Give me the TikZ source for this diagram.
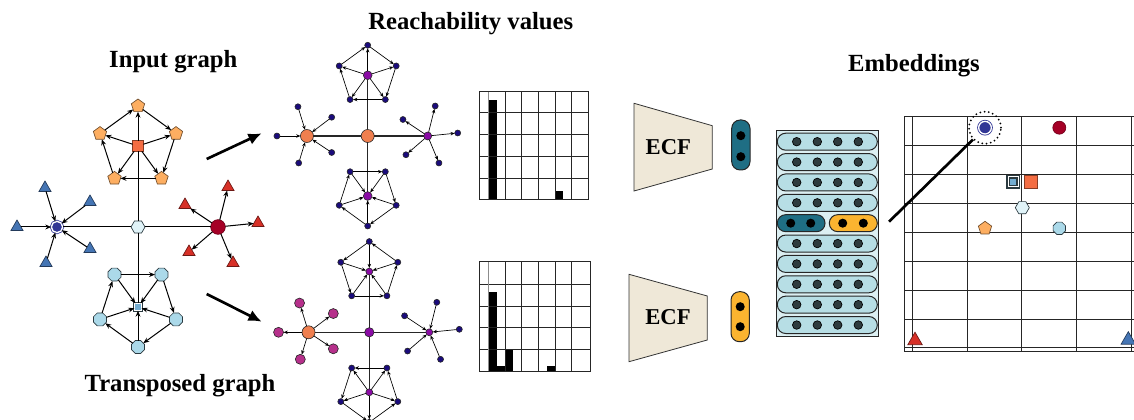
\documentclass[tikz,border=0pt]{standalone}
\usepackage{fontspec}
\setmainfont{Liberation Serif}
\usetikzlibrary{shapes.geometric,arrows.meta}

\definecolor{nodeline}{HTML}{2B3A40}
\definecolor{pentfill}{HTML}{FDAE61}
\definecolor{sqorange}{HTML}{F46D43}
\definecolor{hexfill}{HTML}{E0F3F8}
\definecolor{octfill}{HTML}{ABD9E9}
\definecolor{sqblue}{HTML}{74ADD1}
\definecolor{triblue}{HTML}{4575B4}
\definecolor{trired}{HTML}{D73027}
\definecolor{darkred}{HTML}{A50026}
\definecolor{navyring}{HTML}{313695}
\definecolor{plnavy}{HTML}{1A0B7C}
\definecolor{plpurple}{HTML}{8A0BA5}
\definecolor{plmagenta}{HTML}{B6308B}
\definecolor{plorange}{HTML}{EF7F4F}
\definecolor{ecffill}{HTML}{EFE8D8}
\definecolor{pillteal}{HTML}{1F6E84}
\definecolor{pillorange}{HTML}{FBB430}
\definecolor{pillblue}{HTML}{B7DEE5}
\definecolor{stackbg}{HTML}{DCEFF2}
\definecolor{dotgray}{HTML}{2E3B3E}

% node layout shared by the three graphs (pixel units around the centre node)
\newcommand\graphnodes[1]{%
  \node[#1-c] (#1-c) at (0,0) {};
  \node[#1-L] (#1-L) at (-81,0) {};
  \node[#1-R] (#1-R) at (80,0) {};
  \node[#1-T] (#1-T) at (0,-81) {};
  \node[#1-B] (#1-B) at (0,80) {};
  \node[#1-t] (#1-t1) at (0,-121) {};
  \node[#1-t] (#1-t2) at (38,-93.4) {};
  \node[#1-t] (#1-t3) at (23.5,-48.6) {};
  \node[#1-t] (#1-t4) at (-23.5,-48.6) {};
  \node[#1-t] (#1-t5) at (-38,-93.4) {};
  \node[#1-b] (#1-b1) at (0,120) {};
  \node[#1-b] (#1-b2) at (-38,92.4) {};
  \node[#1-b] (#1-b3) at (-23.5,47.6) {};
  \node[#1-b] (#1-b4) at (23.5,47.6) {};
  \node[#1-b] (#1-b5) at (38,92.4) {};
  \node[#1-l] (#1-l1) at (-93,-39) {};
  \node[#1-l] (#1-l2) at (-48,-25) {};
  \node[#1-l] (#1-l3) at (-121,0) {};
  \node[#1-l] (#1-l4) at (-48,22) {};
  \node[#1-l] (#1-l5) at (-92,36) {};
  \node[#1-r] (#1-r1) at (90,-40) {};
  \node[#1-r] (#1-r2) at (47,-22) {};
  \node[#1-r] (#1-r3) at (120,-4) {};
  \node[#1-r] (#1-r4) at (51,25) {};
  \node[#1-r] (#1-r5) at (95,36) {};
}
% #1 prefix, #2 directed edge style, #3 style of the four central links
\newcommand\graphedges[3]{%
  \draw[#3] (#1-c) -- (#1-L) (#1-c) -- (#1-R) (#1-c) -- (#1-T) (#1-c) -- (#1-B);
  \foreach \i in {1,...,5} {\draw[#2] (#1-T) -- (#1-t\i);}
  \draw[#2] (#1-t1) -- (#1-t2);
  \draw[#2] (#1-t2) -- (#1-t3);
  \draw[#2] (#1-t3) -- (#1-t4);
  \draw[#2] (#1-t4) -- (#1-t5);
  \draw[#2] (#1-t5) -- (#1-t1);
  \foreach \i in {1,...,5} {\draw[#2] (#1-b\i) -- (#1-B);}
  \draw[#2] (#1-b1) -- (#1-b2);
  \draw[#2] (#1-b2) -- (#1-b3);
  \draw[#2] (#1-b3) -- (#1-b4);
  \draw[#2] (#1-b4) -- (#1-b5);
  \draw[#2] (#1-b5) -- (#1-b1);
  \foreach \i in {1,...,5} {\draw[#2] (#1-l\i) -- (#1-L);}
  \foreach \i in {1,...,5} {\draw[#2] (#1-R) -- (#1-r\i);}
}

\begin{document}
\begin{tikzpicture}[x=0.75pt,y=-0.75pt,
  base/.style={inner sep=0pt, outer sep=0pt, line width=0.5pt},
  pent/.style={base, regular polygon, regular polygon sides=5, minimum size=10.5pt, fill=pentfill, draw=pentfill!45!black},
  oct/.style={base, regular polygon, regular polygon sides=8, minimum size=10.5pt, fill=octfill, draw=nodeline},
  hexa/.style={base, regular polygon, regular polygon sides=6, minimum size=10.5pt, fill=hexfill, draw=nodeline},
  tri/.style={base, regular polygon, regular polygon sides=3, minimum size=10.5pt, fill=#1, draw=#1!50!black},
  sqo/.style={base, rectangle, minimum size=8pt, fill=sqorange, draw=sqorange!55!black},
  sqb/.style={base, rectangle, minimum size=5.5pt, fill=sqblue, draw=nodeline, double=white, double distance=0.7pt},
  ringc/.style={base, circle, minimum size=8.5pt, fill=navyring, draw=navyring, line width=0.6pt, double=white, double distance=1pt},
  redc/.style={base, circle, minimum size=11pt, fill=darkred, draw=darkred!70!black},
  dot/.style={base, circle, draw=black!85, line width=0.45pt, fill=#1},
  % input graph
  in-c/.style={hexa}, in-L/.style={ringc}, in-R/.style={redc},
  in-T/.style={sqo}, in-B/.style={sqb}, in-t/.style={pent}, in-b/.style={oct},
  in-l/.style={tri=triblue}, in-r/.style={tri=trired},
  % reachability on the graph
  ra-c/.style={dot=plorange, minimum size=9.75pt}, ra-L/.style={dot=plorange, minimum size=9.75pt},
  ra-R/.style={dot=plpurple, minimum size=6pt}, ra-T/.style={dot=plpurple, minimum size=6.5pt},
  ra-B/.style={dot=plpurple, minimum size=6.5pt},
  ra-t/.style={dot=plnavy, minimum size=4.5pt}, ra-b/.style={dot=plnavy, minimum size=4.5pt},
  ra-l/.style={dot=plnavy, minimum size=4.5pt}, ra-r/.style={dot=plnavy, minimum size=4.5pt},
  % reachability on the transposed graph
  tr-c/.style={dot=plpurple, minimum size=7pt}, tr-L/.style={dot=plorange, minimum size=9.75pt},
  tr-R/.style={dot=plpurple, minimum size=5.2pt}, tr-T/.style={dot=plpurple, minimum size=5.2pt},
  tr-B/.style={dot=plpurple, minimum size=5.2pt},
  tr-t/.style={dot=plnavy, minimum size=4.5pt}, tr-b/.style={dot=plnavy, minimum size=4.5pt},
  tr-l/.style={dot=plmagenta, minimum size=7.5pt}, tr-r/.style={dot=plnavy, minimum size=4.5pt},
  % edges
  edin/.style={line width=0.75pt, -{Stealth[length=4.5pt,width=3.6pt]}},
  linkin/.style={line width=0.75pt},
  edfw/.style={line width=0.5pt, -{Stealth[length=3.2pt,width=2.6pt]}},
  edbw/.style={line width=0.5pt, {Stealth[length=3.2pt,width=2.6pt]}-},
  linkra/.style={line width=1pt, black!85},
  bigarrow/.style={line width=2pt, -{Latex[length=10pt,width=9pt]}},
  title/.style={font=\bfseries\fontsize{18.5}{22}\selectfont, anchor=base, inner sep=0pt},
  grid/.style={line width=0.75pt, black!85},
  ecf/.style={fill=ecffill, draw=black!80, line width=0.6pt},
  pill/.style={draw=black!85, line width=0.75pt, rounded corners=6.3pt}
]
\useasboundingbox (0,0) rectangle (1134,420);

% titles
\node[title] (t-in) at (173.3,68) {Input graph};
\node[title] (t-re) at (470.8,30) {Reachability values};
\node[title] (t-tr) at (180,391.7) {Transposed graph};
\node[title] (t-em) at (914,71.7) {Embeddings};

% input graph
\begin{scope}[shift={(138,227)}]
  \graphnodes{in}
  \graphedges{in}{edin}{linkin}
\end{scope}

% reachability on the graph and on its transpose
\begin{scope}[shift={(367.7,136)}, scale=0.75]
  \graphnodes{ra}
  \graphedges{ra}{edfw}{linkra}
\end{scope}
\begin{scope}[shift={(369.3,332.3)}, scale=0.75]
  \graphnodes{tr}
  \graphedges{tr}{edbw}{linkra}
\end{scope}

% arrows from the input graph
\coordinate (a1s) at (206.7,159);
\coordinate (a1e) at (261.7,133.3);
\coordinate (a2s) at (206.7,294);
\coordinate (a2e) at (261.7,321.7);
\draw[bigarrow] (a1s) -- (a1e);
\draw[bigarrow] (a2s) -- (a2e);

% histogram of the upper graph
\fill (488.3,200) rectangle (496.7,100);
\fill (555,200) rectangle (563.3,190.7);
\foreach \yy in {112.7,134.3,156.7,179} \draw[grid] (479,\yy) -- (588.3,\yy);
\foreach \xx in {505,521.7,538.3,555,571.7} \draw[grid] (\xx,91.7) -- (\xx,200);
\draw[line width=0.75pt, black!45] (488.3,91.7) -- (488.3,200);
\draw[grid] (479,91.7) rectangle (588.3,200);

% histogram of the transposed graph
\fill (488.3,371) rectangle (496.7,291.7);
\fill (496.7,371) rectangle (505,366);
\fill (505,371) rectangle (513.3,349.3);
\fill (546.7,371) rectangle (555,366);
\foreach \yy in {284,306,327.7,349.3} \draw[grid] (479,\yy) -- (590,\yy);
\foreach \xx in {505,521.7,538.3,555,571.7} \draw[grid] (\xx,261.7) -- (\xx,371);
\draw[line width=0.75pt, black!45] (488.3,261.7) -- (488.3,371);
\draw[grid] (479,261.7) rectangle (590,371);

% ECF encoders
\draw[ecf] (634,103.3) -- (712.3,125.7) -- (712.3,169) -- (634,191) -- cycle;
\node[font=\bfseries\fontsize{17}{20}\selectfont] (ecf1) at (668.3,146.7) {ECF};
\draw[ecf] (629,274.3) -- (707.3,296) -- (707.3,340) -- (629,361.7) -- cycle;
\node[font=\bfseries\fontsize{17}{20}\selectfont] (ecf2) at (668,316.7) {ECF};

% the two output vectors
\draw[pill, fill=pillteal] (731.7,120) rectangle (750,170);
\fill (740.8,135.7) circle (3.4pt) (740.8,156.7) circle (3.4pt);
\draw[pill, fill=pillorange] (731,291.7) rectangle (749.3,341.7);
\fill (740.2,306.7) circle (3.4pt) (740.2,326.7) circle (3.4pt);

% stack of node embeddings
\draw[fill=stackbg, draw=black!85, line width=0.75pt] (776,131) rectangle (878.7,336.7);
\foreach \k in {0,...,9} {
  \pgfmathsetmacro\yy{141.7+20.37*\k}
  \ifnum\k=4
    \draw[pill, fill=pillteal] (777.3,\yy-8.5) rectangle (825,\yy+8.5);
    \draw[pill, fill=pillorange] (829.3,\yy-8.5) rectangle (877.3,\yy+8.5);
    \foreach \xx in {790.7,810.7,842.7,863.3} \fill (\xx,\yy) circle (3.4pt);
  \else
    \draw[pill, fill=pillblue] (777.3,\yy-8.5) rectangle (877.3,\yy+8.5);
    \foreach \xx in {796.7,817.3,837.7,858.3}
      \filldraw[fill=dotgray, draw=black, line width=0.5pt] (\xx,\yy) circle (3.2pt);
  \fi
}

% embedding plane
\foreach \k in {0,...,8} \draw[grid] (904,116.7+28.9*\k) -- (1134,116.7+28.9*\k);
\foreach \xx in {912.7,967.3,1021.9,1076.5,1131.1} \draw[grid] (\xx,116.7) -- (\xx,351.7);
\draw[grid] (904,116.7) -- (904,351.7) -- (1134,351.7);

\node[ringc, minimum size=9.5pt] (e-L) at (985,127.7) {};
\node[redc, minimum size=9.75pt] (e-R) at (1059.3,127.7) {};
\node[sqb, minimum size=7.5pt, line width=0.8pt, double distance=1.2pt] (e-B) at (1013.3,181.7) {};
\node[sqo, minimum size=9.5pt] (e-T) at (1030.7,181.7) {};
\node[hexa, minimum size=10.5pt] (e-c) at (1022.3,207.7) {};
\node[pent, minimum size=10.5pt] (e-t) at (985,228.3) {};
\node[oct, minimum size=10pt] (e-b) at (1059.3,228.3) {};
\node[tri=trired, minimum size=12.5pt] (e-r) at (915,340.5) {};
\node[tri=triblue, minimum size=12.5pt] (e-l) at (1128.3,340) {};

\node[circle, minimum size=24pt, inner sep=0pt, draw, line width=1.5pt, line cap=round,
      dash pattern=on 0pt off 3.2pt] (focus) at (985,127.7) {};
\coordinate (link) at (889,221.7);
\draw[line width=2pt] (link) -- (focus);
\end{tikzpicture}
\end{document}
